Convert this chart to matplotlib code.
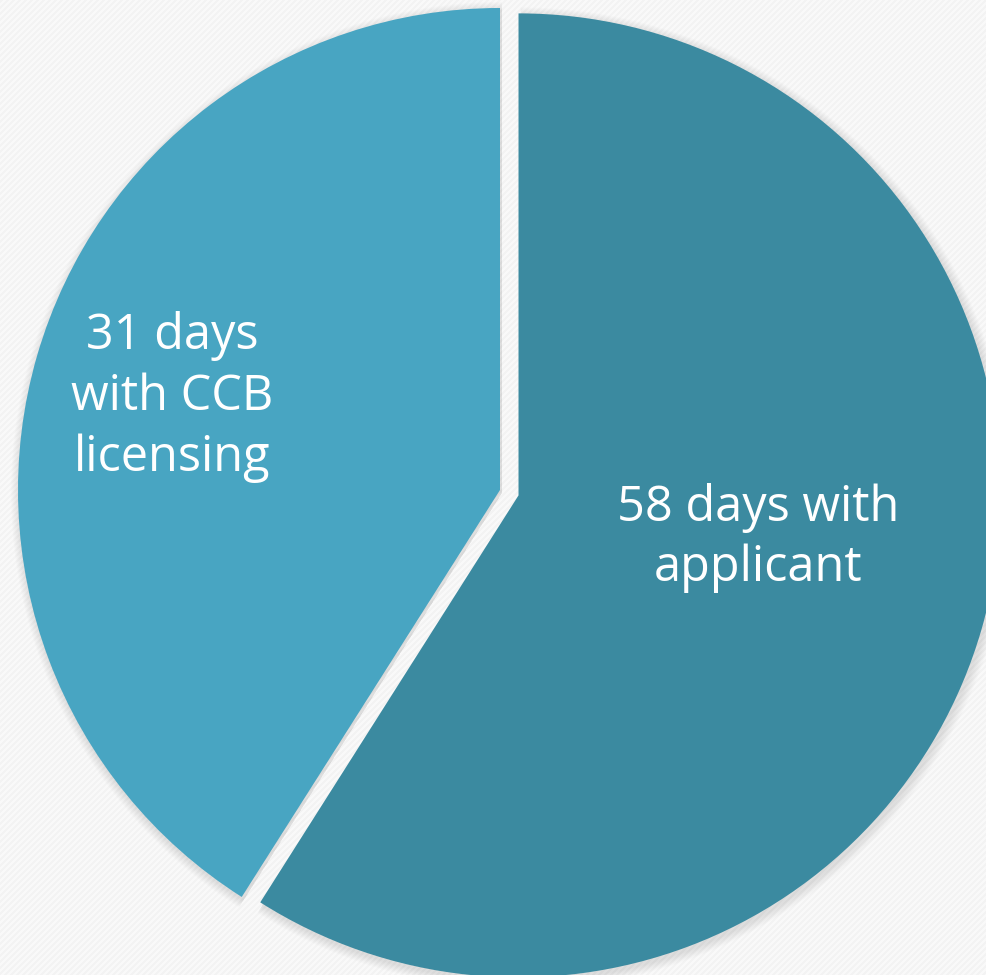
import matplotlib.pyplot as plt
import numpy as np

labels = ['31 days\nwith CCB\nlicensing', '58 days with\napplicant']
share_pct = [41, 59]
colors = ['#48A5C2', '#3B8AA0']

W, H = 986, 975
fig = plt.figure(figsize=(W / 100, H / 100), dpi=100)
ax = fig.add_axes([0, 0, 1, 1])

# faint diagonal texture for the background
yy, xx = np.mgrid[0:H, 0:W]
stripes = 0.955 + 0.02 * (((xx + yy) // 3) % 2)
ax.imshow(stripes, cmap='gray', vmin=0, vmax=1, extent=(0, W, 0, H),
          origin='upper', zorder=0)

cx, cy, r = 500, H - 490, 482
explode = [0.04 * r, 0]  # dark slice pulled out a little

# soft shadow
for k in range(1, 10):
    ax.pie(share_pct[::-1], colors=['#000000'] * 2, explode=explode, startangle=90,
           counterclock=False, center=(cx + 2, cy - 3), radius=r + k,
           wedgeprops=dict(alpha=0.012, linewidth=0), frame=True)

ax.pie(share_pct[::-1], colors=colors[::-1], explode=explode, startangle=90,
       counterclock=False, center=(cx, cy), radius=r,
       wedgeprops=dict(linewidth=0), frame=True)

ax.set_xlim(0, W)
ax.set_ylim(0, H)
ax.set_aspect('auto')
ax.axis('off')

ax.text(172, H - 397, labels[0], color='white', fontsize=35, family='Open Sans',
        ha='center', va='center', linespacing=1.3)
ax.text(758, H - 538, labels[1], color='white', fontsize=35, family='Open Sans',
        ha='center', va='center', linespacing=1.3)

fig.savefig('out.png', dpi=100)
